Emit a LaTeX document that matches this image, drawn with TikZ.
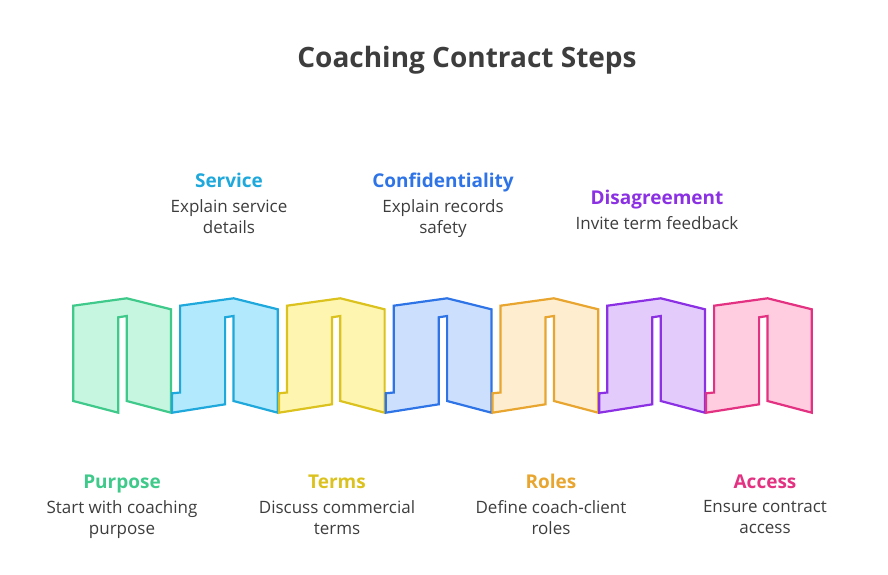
\documentclass[tikz,border=0pt]{standalone}
\usepackage{fontspec}
\setmainfont{Open Sans}
\usetikzlibrary{positioning}

\definecolor{grnline}{HTML}{3FC98A}\definecolor{grnfill}{HTML}{C6F6DF}
\definecolor{skyline}{HTML}{1EA8DB}\definecolor{skyfill}{HTML}{B2E9FC}
\definecolor{ylwline}{HTML}{DCC21F}\definecolor{ylwfill}{HTML}{FEF6B0}
\definecolor{bluline}{HTML}{2F74E6}\definecolor{blufill}{HTML}{CCE0FD}
\definecolor{orgline}{HTML}{E8A630}\definecolor{orgfill}{HTML}{FEEDCE}
\definecolor{prpline}{HTML}{8B30E3}\definecolor{prpfill}{HTML}{E3CCFC}
\definecolor{pnkline}{HTML}{E33281}\definecolor{pnkfill}{HTML}{FFCCE0}
\definecolor{txtgray}{HTML}{3D3D3D}

\tikzset{
  fold/.style={line width=2.2pt, line join=miter},
  title/.style={font=\bfseries\fontsize{28}{32}\selectfont, text=txtgray, inner sep=0pt, anchor=base},
  head/.style={font=\bfseries\fontsize{19}{22}\selectfont, inner sep=0pt, text height=13.5pt, text depth=0pt, anchor=south},
  desc/.style={font=\fontsize{17}{21}\selectfont, text=txtgray, align=center, inner sep=0pt, below=11.5pt of #1}
}

\begin{document}
\begin{tikzpicture}[x=1pt,y=-1pt]
\useasboundingbox (0,0) rectangle (888,575);

\node[title] (ttl) at (467,68) {Coaching Contract Steps};

% folded band
\foreach \i/\c in {0/grn,1/sky,2/ylw,3/blu,4/org,5/prp,6/pnk} {
  \pgfmathsetmacro\xa{73.3+106.8*\i}
  \ifnum\i=0
    \draw[fold, draw=\c line, fill=\c fill]
      (\xa,305.7) -- (\xa+53.4,298.3) -- (\xa+97.7,309.3) -- (\xa+97.7,412.7)
      -- (\xa+53.4,401) -- (\xa+53.4,316) -- (\xa+45,317.3) -- (\xa+45,412.7)
      -- (\xa,401) -- cycle;
  \else
    \draw[fold, draw=\c line, fill=\c fill]
      (\xa,305.7) -- (\xa+53.4,298.3) -- (\xa+97.7,309.3) -- (\xa+97.7,412.7)
      -- (\xa+53.4,401) -- (\xa+53.4,316) -- (\xa+45,317.3) -- (\xa+45,404.3)
      -- (\xa-8,412.7) -- (\xa-8,393.3) -- (\xa,392.5) -- cycle;
  \fi
}

% steps above
\node[head, text=skyline] (svc) at (229,188) {Service};
\node[desc=svc] (svcd) {Explain service\\details};
\node[head, text=bluline] (cnf) at (443,188) {Confidentiality};
\node[desc=cnf] (cnfd) {Explain records\\safety};
\node[head, text=prpline] (dis) at (657,204.5) {Disagreement};
\node[desc=dis] (disd) {Invite term feedback};

% steps below
\node[head, text=grnline] (pur) at (122,488.5) {Purpose};
\node[desc=pur] (purd) {Start with coaching\\purpose};
\node[head, text=ylwline] (trm) at (337,488.5) {Terms};
\node[desc=trm] (trmd) {Discuss commercial\\terms};
\node[head, text=orgline] (rol) at (551,488.5) {Roles};
\node[desc=rol] (rold) {Define coach-client\\roles};
\node[head, text=pnkline] (acc) at (765,488.5) {Access};
\node[desc=acc] (accd) {Ensure contract\\access};
\end{tikzpicture}
\end{document}
